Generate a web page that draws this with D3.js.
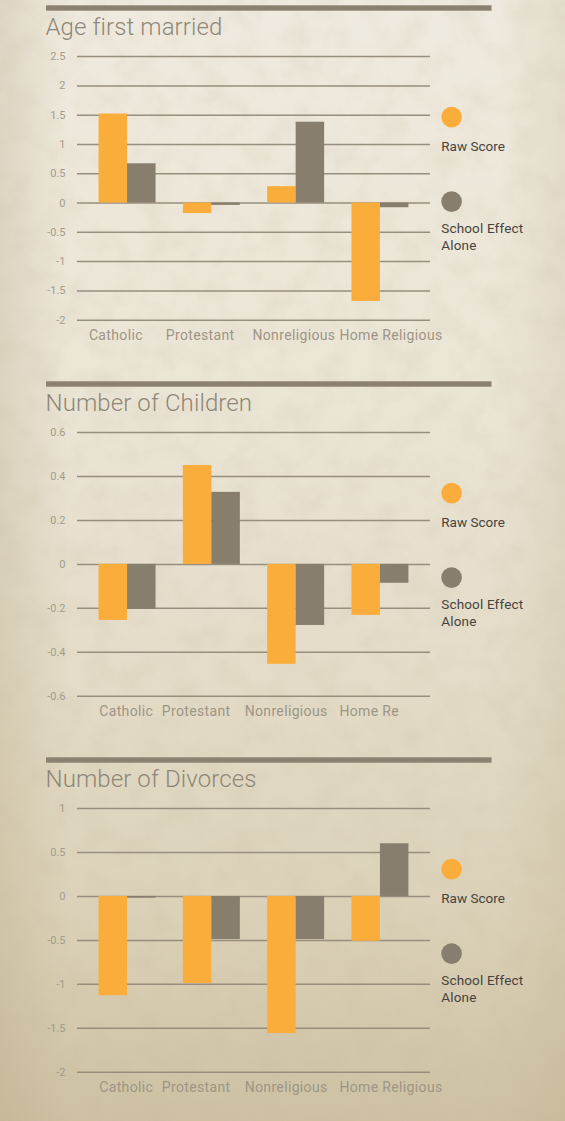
<!DOCTYPE html>
<html>
<head>
<meta charset="utf-8">
<script src="https://cdn.jsdelivr.net/npm/d3@7"></script>
<style>
  html, body { margin: 0; padding: 0; background: #e9e3d3; }
  svg { display: block; }
  text { font-family: Roboto, "Open Sans", sans-serif; }
</style>
</head>
<body>
<svg id="chart" width="565" height="1121"></svg>
<script>
// ---- data ----
const categories = ["Catholic", "Protestant", "Nonreligious", "Home Religious"];
const seriesNames = ["Raw Score", "School Effect Alone"];

const ageRaw = [1.52, -0.18, 0.28, -1.68];
const ageSchool = [0.67, -0.04, 1.38, -0.08];
const ageTicks = [2.5, 2, 1.5, 1, 0.5, 0, -0.5, -1, -1.5, -2];

const childrenRaw = [-0.255, 0.45, -0.455, -0.232];
const childrenSchool = [-0.205, 0.328, -0.278, -0.086];
const childrenTicks = [0.6, 0.4, 0.2, 0, -0.2, -0.4, -0.6];

const divorceRaw = [-1.13, -0.99, -1.56, -0.51];
const divorceSchool = [-0.02, -0.49, -0.49, 0.6];
const divorceTicks = [1, 0.5, 0, -0.5, -1, -1.5, -2];

// ---- styling / layout ----
const W = 565, H = 1121;
const ORANGE = "#fbad3c", TAUPE = "#877e6d";
const GRID = "#978e7d", RULE = "#8a8171";
const panelStep = 376, firstTop = 5.3;
const plotLeft = 77, plotRight = 430;

const panels = [
  { title: "Age first married", raw: ageRaw, school: ageSchool, ticks: ageTicks,
    labelDx: [-9.7, -17, -14.7, -12], labelClip: null },
  { title: "Number of Children", raw: childrenRaw, school: childrenSchool, ticks: childrenTicks,
    labelDx: [0.7, -21, -22.5, -12], labelClip: 398.5 },
  { title: "Number of Divorces", raw: divorceRaw, school: divorceSchool, ticks: divorceTicks,
    labelDx: [0.7, -21, -22.5, -12], labelClip: null }
];

const svg = d3.select("#chart");
const defs = svg.append("defs");

// parchment background
const bg = defs.append("linearGradient").attr("id", "paper").attr("x1", 0).attr("y1", 0).attr("x2", 0).attr("y2", 1);
[["0", "#efeadf"], ["0.35", "#ebe5d6"], ["0.6", "#e4dcc8"], ["0.82", "#dbd1b8"], ["1", "#cdc1a2"]]
  .forEach(([o, c]) => bg.append("stop").attr("offset", o).attr("stop-color", c));

const side = defs.append("linearGradient").attr("id", "sideShade").attr("x1", 0).attr("y1", 0).attr("x2", 1).attr("y2", 0);
[["0", "#b5a680", 0.28], ["0.12", "#b5a680", 0.0], ["0.88", "#b5a680", 0.0], ["1", "#b5a680", 0.18]]
  .forEach(([o, c, a]) => side.append("stop").attr("offset", o).attr("stop-color", c).attr("stop-opacity", a));

const grain = defs.append("filter").attr("id", "grain").attr("x", 0).attr("y", 0).attr("width", "100%").attr("height", "100%");
grain.append("feTurbulence").attr("type", "fractalNoise").attr("baseFrequency", "0.035").attr("numOctaves", 4).attr("seed", 7);
grain.append("feColorMatrix").attr("type", "matrix")
  .attr("values", "0 0 0 0 0.55  0 0 0 0 0.48  0 0 0 0 0.33  0.9 0 0 0 -0.36");

svg.append("rect").attr("width", W).attr("height", H).attr("fill", "url(#paper)");
svg.append("rect").attr("width", W).attr("height", H).attr("fill", "url(#sideShade)");
svg.append("rect").attr("width", W).attr("height", H).attr("filter", "url(#grain)").attr("opacity", 0.4);

// shared horizontal scales
const x = d3.scaleBand().domain(categories).range([plotLeft, plotRight])
  .paddingInner(0.324).paddingOuter(0.256);
const xs = d3.scaleBand().domain(seriesNames).range([0, x.bandwidth()]);
const color = d3.scaleOrdinal().domain(seriesNames).range([ORANGE, TAUPE]);

panels.forEach((p, i) => {
  const top = firstTop + i * panelStep;
  const g = svg.append("g");

  // header rule and title
  g.append("rect").attr("x", 46).attr("y", top).attr("width", 445.5).attr("height", 5.4).attr("fill", RULE);
  g.append("text").attr("x", 45.5).attr("y", top + 30)
    .attr("font-size", 24).attr("font-weight", 300).attr("fill", "#8e8777")
    .attr("letter-spacing", 0.1)
    .text(p.title);

  const y = d3.scaleLinear().domain(d3.extent(p.ticks)).range([top + 314.4, top + 50.8]);

  // gridlines + tick labels
  const axis = d3.axisLeft(y).tickValues(p.ticks).tickSize(plotRight - plotLeft)
    .tickPadding(11.5).tickFormat(d => String(d));
  const ag = g.append("g").attr("transform", `translate(${plotRight},0)`).call(axis);
  ag.select(".domain").remove();
  ag.selectAll(".tick line").attr("stroke", GRID).attr("stroke-width", 1.5);
  ag.selectAll(".tick text").attr("fill", "#a39c8c").attr("font-size", 11)
    .attr("font-family", "Roboto, sans-serif");

  // bars
  const rows = categories.map((c, k) => ({ cat: c, values: [
    { name: seriesNames[0], v: p.raw[k] }, { name: seriesNames[1], v: p.school[k] }] }));
  const grp = g.selectAll(".grp").data(rows).join("g")
    .attr("transform", d => `translate(${x(d.cat)},0)`);
  grp.selectAll("rect").data(d => d.values).join("rect")
    .attr("x", d => xs(d.name))
    .attr("width", xs.bandwidth())
    .attr("y", d => y(Math.max(0, d.v)))
    .attr("height", d => Math.abs(y(d.v) - y(0)))
    .attr("fill", d => color(d.name));

  // category labels
  let lg = g.append("g");
  if (p.labelClip) {
    const id = "clip" + i;
    defs.append("clipPath").attr("id", id).append("rect")
      .attr("x", 0).attr("y", top + 300).attr("width", p.labelClip).attr("height", 60);
    lg.attr("clip-path", `url(#${id})`);
  }
  lg.selectAll("text").data(categories).join("text")
    .attr("x", (d, k) => x(d) + p.labelDx[k])
    .attr("y", top + 335)
    .attr("font-size", 14).attr("letter-spacing", 0.35).attr("fill", "#9d9585")
    .text(d => d);

  // legend
  const leg = g.append("g").attr("transform", `translate(441.3,${top})`);
  leg.append("circle").attr("cx", 10.3).attr("cy", 111.8).attr("r", 10.3).attr("fill", color(seriesNames[0]));
  leg.append("text").attr("x", 0).attr("y", 145.6).attr("font-size", 13.5).attr("fill", "#47433c").text("Raw Score");
  leg.append("circle").attr("cx", 10.3).attr("cy", 196.3).attr("r", 10.3).attr("fill", color(seriesNames[1]));
  const t2 = leg.append("text").attr("x", 0).attr("y", 227.5).attr("font-size", 13.5)
    .attr("letter-spacing", 0.15).attr("fill", "#47433c");
  t2.append("tspan").attr("x", 0).text("School Effect");
  t2.append("tspan").attr("x", 0).attr("dy", 16.8).text("Alone");
});
</script>
</body>
</html>
